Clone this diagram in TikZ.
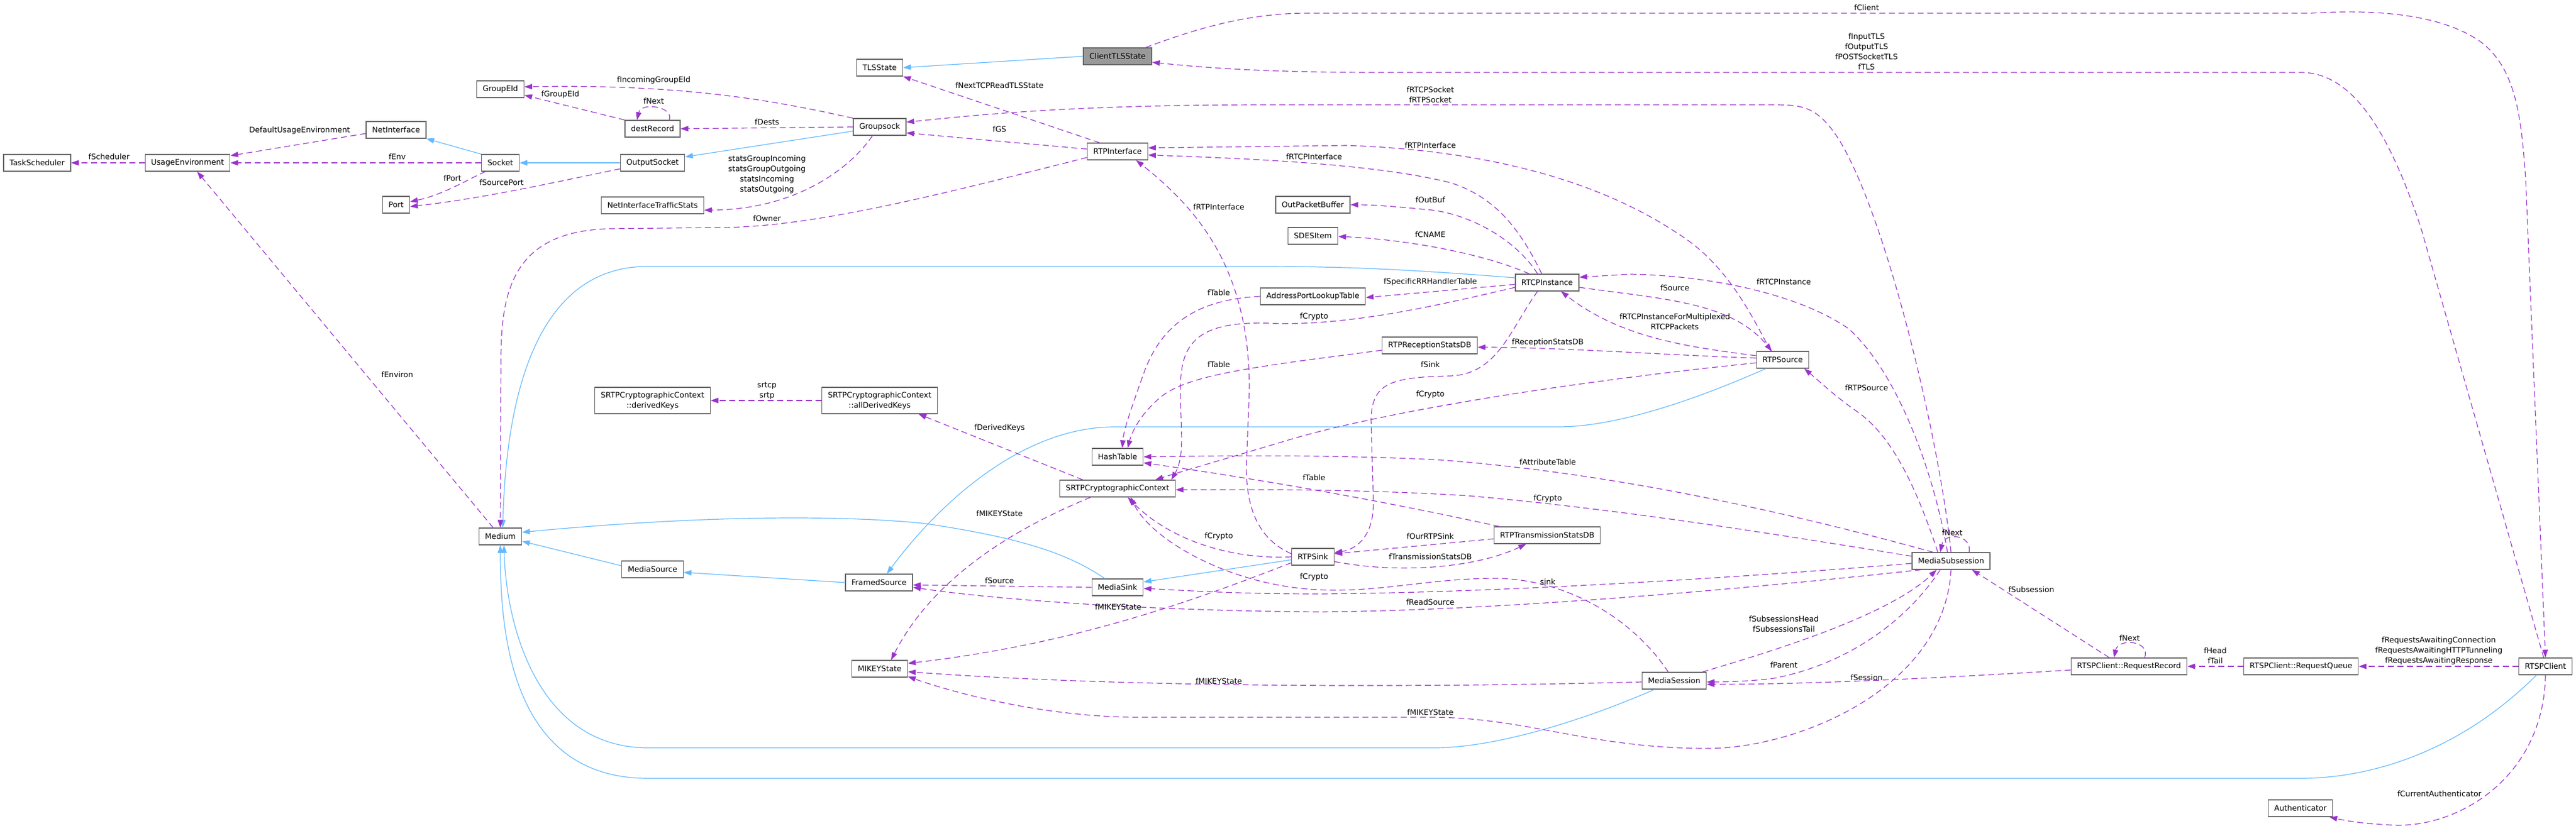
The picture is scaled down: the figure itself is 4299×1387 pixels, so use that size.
\documentclass[tikz,border=0pt]{standalone}
\usepackage{fontspec}
\setmainfont{DejaVu Sans}
\usetikzlibrary{arrows.meta}
\definecolor{usepurple}{HTML}{9A32CD}
\definecolor{heritblue}{HTML}{63B8FF}
\definecolor{boxgray}{HTML}{666666}
\definecolor{rootgray}{HTML}{999999}
\newcommand{\classfont}{\fontsize{12.8}{17}\selectfont}
\tikzset{
  cls/.style={draw=boxgray, line width=1.3pt, fill=white, minimum height=28pt, inner xsep=10pt, inner ysep=2pt, font=\classfont},
  lbl/.style={font=\classfont, inner sep=0pt, align=center},
  use/.style={draw=usepurple, line width=1.2pt, dash pattern=on 10pt off 6pt, -{Triangle[length=13pt,width=9pt,fill=usepurple]}},
  herit/.style={draw=heritblue, line width=1.2pt, -{Triangle[length=13pt,width=9pt,fill=heritblue]}}
}
\begin{document}
\begin{tikzpicture}[x=1pt,y=-1pt]

\useasboundingbox (0,0) rectangle (4299,1387);

% classes (centre en pixels)
\foreach \nom/\x/\y/\txt in {%
    TaskScheduler/62/272/TaskScheduler,
    UsageEnvironment/313/272/UsageEnvironment,
    NetInterface/661/217/NetInterface,
    Port/661/342/Port,
    GroupEId/835/149/GroupEId,
    Socket/835/272/Socket,
    Medium/835/896/Medium,
    destRecord/1089/215/destRecord,
    OutputSocket/1089/272/OutputSocket,
    NetInterfaceTrafficStats/1089/343/NetInterfaceTrafficStats,
    MediaSource/1089/951/MediaSource,
    TLSState/1468/113/TLSState,
    Groupsock/1468/212/Groupsock,
    FramedSource/1467/973/FramedSource,
    MIKEYState/1468/1117/MIKEYState,
    RTPInterface/1865/253/RTPInterface,
    HashTable/1865/763/HashTable,
    SRTPCC/1865/816/SRTPCryptographicContext,
    MediaSink/1865/981/MediaSink,
    OutPacketBuffer/2191/342/OutPacketBuffer,
    SDESItem/2191/394/SDESItem,
    AddressPortLookupTable/2191/495/AddressPortLookupTable,
    RTPSink/2191/930/RTPSink,
    RTPReceptionStatsDB/2386/577/RTPReceptionStatsDB,
    RTCPInstance/2582/472/RTCPInstance,
    RTPTransmissionStatsDB/2582/894/RTPTransmissionStatsDB,
    MediaSession/2794/1137/MediaSession,
    RTPSource/2975/601/RTPSource,
    MediaSubsession/3256/937/MediaSubsession,
    RequestRecord/3553/1113/RTSPClient::RequestRecord,
    RequestQueue/3840/1113/RTSPClient::RequestQueue,
    Authenticator/3839/1350/Authenticator,
    RTSPClient/4248/1113/RTSPClient%
}{\node[cls] (\nom) at (\x,\y) {\txt};}
\node[cls, fill=rootgray] (ClientTLSState) at (1865,94) {ClientTLSState};
\node[cls, align=center, minimum height=44pt] (derivedKeys) at (1089,669) {SRTPCryptographicContext\\::derivedKeys};
\node[cls, align=center, minimum height=44pt] (allDerivedKeys) at (1468,669) {SRTPCryptographicContext\\::allDerivedKeys};

% heritage
\draw[herit] (ClientTLSState.west) -- (TLSState.east);
\draw[herit] (Socket.north west) -- (NetInterface.south east);
\draw[herit] (OutputSocket.west) -- (Socket.east);
\draw[herit] ([yshift=-7pt]Groupsock.west) -- ([yshift=10pt]OutputSocket.east);
\draw[herit] ([yshift=8pt]RTCPInstance.west) .. controls (2350,450) and (2250,445) .. (2100,445) -- (1081,445) .. controls (900,445) and (845,650) .. ([xshift=4pt]Medium.north);
\draw[herit] ([yshift=6pt]MediaSource.west) -- ([yshift=-8pt]Medium.east);
\draw[herit] (FramedSource.west) -- ([yshift=-5pt]MediaSource.east);
\draw[herit] ([xshift=-21pt]MediaSink.north) .. controls (1790,930) and (1720,900) .. (1540,874) .. controls (1420,862) and (1200,858) .. ([yshift=7pt]Medium.east);
\draw[herit] ([xshift=-28pt]RTPSource.south) .. controls (2880,645) and (2720,713) .. (2600,713) -- (1860,713) .. controls (1700,713) and (1560,850) .. ([xshift=13pt]FramedSource.north);
\draw[herit] ([yshift=-5pt]RTPSink.west) -- ([yshift=9pt]MediaSink.east);
\draw[herit] ([xshift=-33pt]MediaSession.south) .. controls (2650,1200) and (2500,1249) .. (2394,1249) -- (1081,1249) .. controls (900,1249) and (845,1050) .. ([xshift=6pt]Medium.south);
\draw[herit] ([xshift=-15pt]RTSPClient.south) .. controls (4100,1260) and (3950,1300) .. (3840,1300) -- (1081,1300) .. controls (850,1300) and (835,1050) .. (Medium.south);

% relations d'usage, partie gauche
\draw[use] (UsageEnvironment.west) -- (TaskScheduler.east);
\draw[use] ([yshift=-6pt]NetInterface.west) -- ([yshift=12pt]UsageEnvironment.east);
\draw[use] (Socket.west) -- (UsageEnvironment.east);
\draw[use] ([xshift=-25pt]Socket.south) .. controls (780,300) and (740,325) .. ([yshift=5pt]Port.east);
\draw[use] ([yshift=-10pt]OutputSocket.west) .. controls (900,310) and (800,332) .. ([yshift=-3pt]Port.east);
\draw[use] (destRecord.north west) -- ([yshift=-10pt]GroupEId.east);
\draw[use] ([xshift=28pt]destRecord.north) .. controls (1125,178) and (1070,170) .. ([xshift=-26pt]destRecord.north);
\draw[use] (Groupsock.north west) .. controls (1300,170) and (1150,140) .. ([yshift=4pt]GroupEId.east);
\draw[use] (Groupsock.west) -- (destRecord.east);
\draw[use] ([xshift=-12pt]Groupsock.south) .. controls (1420,280) and (1330,350) .. ([yshift=-8pt]NetInterfaceTrafficStats.east);
\draw[use] ([yshift=-10pt]RTPInterface.west) .. controls (1550,330) and (1350,380) .. (1200,380) -- (1020,382) .. controls (860,385) and (836,480) .. (836,600) -- (Medium.north);
\draw[use] ([xshift=-12pt]Medium.north) -- ([xshift=16pt]UsageEnvironment.south);
\draw[use] ([yshift=4pt]RTPInterface.west) -- ([yshift=-10pt]Groupsock.east);
\draw[use] ([xshift=-30pt]RTPInterface.north) -- (TLSState.south east);

% TLS et client
\draw[use] ([xshift=-3pt]RTSPClient.north) -- (4040,380) .. controls (3990,230) and (3930,121) .. (3840,121) -- (2300,121) .. controls (2100,121) and (2000,112) .. ([yshift=-10pt]ClientTLSState.east);
\draw[use] ([xshift=47pt]ClientTLSState.north) .. controls (1990,50) and (2080,22) .. (2180,22) -- (3857,22) .. controls (3950,16) and (4070,20) .. (4140,70) .. controls (4200,115) and (4208,200) .. (4215,300) -- (RTSPClient.north);
\draw[use] (MediaSubsession.north) .. controls (3235,720) and (3140,330) .. (3060,220) .. controls (3030,180) and (3010,175) .. (2960,175) -- (2120,175) .. controls (1800,175) and (1650,190) .. ([yshift=8pt]Groupsock.east);

% RTP / RTCP
\draw[use] ([xshift=-20pt]RTPSource.north) .. controls (2920,520) and (2880,440) .. (2800,390) .. controls (2650,290) and (2450,250) .. (2250,243) -- ([yshift=6pt]RTPInterface.east);
\draw[use] ([xshift=-9pt]RTCPInstance.north) .. controls (2540,390) and (2500,330) .. (2420,305) .. controls (2300,275) and (2100,265) .. ([yshift=-6pt]RTPInterface.east);
\draw[use] ([yshift=5pt]RTPSink.west) .. controls (2100,900) and (2080,850) .. (2080,780) -- (2085,650) .. controls (2085,450) and (2000,350) .. ([xshift=31pt]RTPInterface.south);
\draw[use] ([xshift=-16pt]RTCPInstance.north) .. controls (2530,400) and (2450,355) .. (2380,350) .. controls (2330,345) and (2290,342) .. (OutPacketBuffer.east);
\draw[use] ([xshift=-30pt]RTCPInstance.north) .. controls (2480,425) and (2350,400) .. ([yshift=-1pt]SDESItem.east);
\draw[use] ([yshift=-3pt]RTCPInstance.west) -- ([yshift=-2pt]AddressPortLookupTable.east);
\draw[use] ([yshift=-8pt]RTCPInstance.west) .. controls (2400,510) and (2250,545) .. (2120,540) .. controls (1990,535) and (1970,580) .. (1970,650) .. controls (1970,720) and (1978,760) .. ([xshift=90pt]SRTPCC.north);
\draw[use] (AddressPortLookupTable.west) .. controls (2000,500) and (1940,540) .. (1910,620) .. controls (1885,690) and (1875,720) .. ([xshift=8pt]HashTable.north);
\draw[use] ([yshift=-8pt]RTPReceptionStatsDB.west) .. controls (2100,612) and (1980,625) .. (1935,665) .. controls (1900,695) and (1888,725) .. ([xshift=17pt]HashTable.north);
\draw[use] ([xshift=-16pt]RTCPInstance.south) .. controls (2520,550) and (2500,625) .. (2420,628) .. controls (2320,630) and (2290,640) .. (2288,700) -- (2292,840) .. controls (2292,900) and (2260,918) .. ([yshift=7pt]RTPSink.east);
\draw[use] (RTPSink.west) .. controls (2050,935) and (1950,900) .. ([xshift=17pt]SRTPCC.south);
\draw[use] ([yshift=-6pt]RTPTransmissionStatsDB.west) -- ([yshift=5pt]RTPSink.east);
\draw[use] ([yshift=-8pt]RTPSink.east) .. controls (2330,958) and (2460,950) .. ([xshift=-35pt]RTPTransmissionStatsDB.south);
\draw[use] ([xshift=-80pt]RTPTransmissionStatsDB.north) .. controls (2300,835) and (2100,800) .. ([yshift=-10pt]HashTable.east);
\draw[use] ([yshift=7pt]RTPSource.west) .. controls (2800,578) and (2700,560) .. ([xshift=23pt]RTCPInstance.south);
\draw[use] ([yshift=-8pt]RTCPInstance.east) .. controls (2780,500) and (2890,505) .. ([xshift=-18pt]RTPSource.north);
\draw[use] ([yshift=3pt]RTPSource.west) .. controls (2800,594) and (2600,580) .. ([yshift=-3pt]RTPReceptionStatsDB.east);
\draw[use] ([yshift=-5pt]RTPSource.west) .. controls (2600,640) and (2300,690) .. (2150,735) .. controls (2050,765) and (1980,785) .. ([xshift=63pt]SRTPCC.north);

% MediaSubsession et MediaSession
\draw[use] ([xshift=-6pt]MediaSubsession.north) .. controls (3230,800) and (3170,625) .. (3085,549) .. controls (3000,490) and (2850,460) .. (2720,458) -- ([yshift=9pt]RTCPInstance.east);
\draw[use] ([xshift=-22pt]MediaSubsession.north) .. controls (3200,820) and (3160,730) .. (3100,688) .. controls (3060,660) and (3040,640) .. ([xshift=36pt]RTPSource.south);
\draw[use] ([xshift=-30pt]MediaSubsession.north) .. controls (3000,860) and (2700,790) .. (2400,768) .. controls (2200,758) and (2000,762) .. (HashTable.east);
\draw[use] ([yshift=8pt]MediaSubsession.west) .. controls (2950,890) and (2700,850) .. (2450,828) .. controls (2250,816) and (2100,818) .. ([yshift=-2pt]SRTPCC.east);
\draw[use] ([yshift=-4pt]MediaSubsession.west) .. controls (2900,965) and (2500,990) .. (2200,992) .. controls (2050,992) and (1960,985) .. ([yshift=-2pt]MediaSink.east);
\draw[use] ([xshift=-50pt]MediaSubsession.south) .. controls (2900,985) and (2500,1020) .. (2200,1022) .. controls (1900,1020) and (1650,1000) .. ([yshift=-8pt]FramedSource.east);
\draw[use] (MediaSubsession.south) .. controls (3245,1150) and (3000,1250) .. (2850,1250) .. controls (2650,1250) and (2550,1198) .. (2387,1198) -- (1900,1198) .. controls (1750,1198) and (1600,1160) .. ([yshift=-13pt]MIKEYState.east);
\draw[use] ([yshift=-2pt]MediaSession.west) .. controls (2400,1148) and (1900,1150) .. ([yshift=-5pt]MIKEYState.east);
\draw[use] ([xshift=-10pt]MediaSession.north) .. controls (2730,1040) and (2620,965) .. (2490,966) .. controls (2380,967) and (2300,990) .. (2200,985) .. controls (2050,978) and (1920,900) .. ([xshift=22pt]SRTPCC.south);
\draw[use] ([yshift=-10pt]RTPSink.west) .. controls (2000,1000) and (1800,1075) .. ([yshift=9pt]MIKEYState.east);
\draw[use] ([xshift=-45pt]SRTPCC.south) .. controls (1700,880) and (1560,960) .. ([xshift=19pt]MIKEYState.north);
\draw[use] ([xshift=-58pt]SRTPCC.north) -- ([xshift=65pt]allDerivedKeys.south);
\draw[use] (allDerivedKeys.west) -- (derivedKeys.east);
\draw[use] (MediaSink.west) -- ([yshift=-4pt]FramedSource.east);
\draw[use] ([xshift=30pt]MediaSubsession.north) .. controls (3292,893) and (3245,888) .. ([xshift=-18pt]MediaSubsession.north);
\draw[use] ([xshift=-18pt]MediaSubsession.south) .. controls (3180,1040) and (3080,1110) .. (2960,1133) .. controls (2920,1138) and (2880,1139) .. ([yshift=-2pt]MediaSession.east);
\draw[use] ([xshift=47pt]MediaSession.north) .. controls (2950,1090) and (3150,1030) .. ([xshift=-24pt]MediaSubsession.south);

% requetes RTSP
\draw[use] (RequestQueue.west) -- (RequestRecord.east);
\draw[use] (RTSPClient.west) -- (RequestQueue.east);
\draw[use] ([xshift=26pt]RequestRecord.north) .. controls (3590,1070) and (3535,1065) .. ([xshift=-25pt]RequestRecord.north);
\draw[use] ([xshift=-33pt]RequestRecord.north) -- ([xshift=35pt]MediaSubsession.south);
\draw[use] ([yshift=-6pt]RequestRecord.west) .. controls (3200,1135) and (3000,1143) .. ([yshift=-6pt]MediaSession.east);
\draw[use] (RTSPClient.south) .. controls (4245,1300) and (4100,1385) .. (3990,1378) .. controls (3950,1376) and (3920,1372) .. ([xshift=-6pt]Authenticator.south east);

% etiquettes
\foreach \nom/\x/\y/\txt in {%
    lScheduler/182/262/fScheduler,
    lDefEnv/500/218/DefaultUsageEnvironment,
    lEnv/663/262/fEnv,
    lEnviron/663/626/fEnviron,
    lPort/755/298/fPort,
    lSrcPort/837/305/fSourcePort,
    lInGroup/1091/134/fIncomingGroupEId,
    lGroupEId/935/158/fGroupEId,
    lDestNext/1091/169/fNext,
    lDests/1280/204/fDests,
    lOwner/1280/365/fOwner,
    lNextTLS/1668/143/fNextTCPReadTLSState,
    lGS/1668/216/fGS,
    lSinkIface/2034/346/fRTPInterface,
    lTableA/2034/489/fTable,
    lTableB/2034/609/fTable,
    lSrcIface/2387/243/fRTPInterface,
    lRtcpIface/2193/262/fRTCPInterface,
    lOutBuf/2387/334/fOutBuf,
    lCName/2387/392/fCNAME,
    lRRHandler/2387/471/fSpecificRRHandlerTable,
    lRtcpCrypto/2193/529/fCrypto,
    lRecStats/2583/572/fReceptionStatsDB,
    lSink/2387/609/fSink,
    lSrcCrypto/2387/659/fCrypto,
    lSource/2795/481/fSource,
    lClient/3115/13/fClient,
    lRtcpInst/2977/471/fRTCPInstance,
    lRtpSrc/3115/648/fRTPSource,
    lDerived/1668/715/fDerivedKeys,
    lMikeyCtx/1668/858/fMIKEYState,
    lSinkCrypto/2034/896/fCrypto,
    lFSource/1668/970/fSource,
    lMikeySink/1866/1014/fMIKEYState,
    lMikeySess/2034/1138/fMIKEYState,
    lTableC/2193/798/fTable,
    lAttr/2583/772/fAttributeTable,
    lSubCrypto/2583/833/fCrypto,
    lOurSink/2387/896/fOurRTPSink,
    lTxStats/2387/930/fTransmissionStatsDB,
    lSessCrypto/2193/964/fCrypto,
    lMSink/2583/972/sink,
    lReadSrc/2387/1006/fReadSource,
    lMikeySub/2387/1190/fMIKEYState,
    lSubNext/3258/890/fNext,
    lSubsession/3390/985/fSubsession,
    lParent/2977/1111/fParent,
    lSession/3115/1132/fSession,
    lRecNext/3554/1066/fNext,
    lAuth/4071/1326/fCurrentAuthenticator%
}{\node[lbl] (\nom) at (\x,\y) {\txt};}
\node[lbl] (lStats) at (1280,291.5) {statsGroupIncoming\\statsGroupOutgoing\\statsIncoming\\statsOutgoing};
\node[lbl] (lKeys) at (1280,652.5) {srtcp\\srtp};
\node[lbl] (lSockets) at (2387,158.5) {fRTCPSocket\\fRTPSocket};
\node[lbl] (lMultiplex) at (2795,537.5) {fRTCPInstanceForMultiplexed\\RTCPPackets};
\node[lbl] (lTLS) at (3115,86.5) {fInputTLS\\fOutputTLS\\fPOSTSocketTLS\\fTLS};
\node[lbl] (lHeadTail) at (2977,1042.5) {fSubsessionsHead\\fSubsessionsTail};
\node[lbl] (lQueue) at (3697,1095.5) {fHead\\fTail};
\node[lbl] (lAwaiting) at (4070,1087) {fRequestsAwaitingConnection\\fRequestsAwaitingHTTPTunneling\\fRequestsAwaitingResponse};

\end{tikzpicture}
\end{document}
